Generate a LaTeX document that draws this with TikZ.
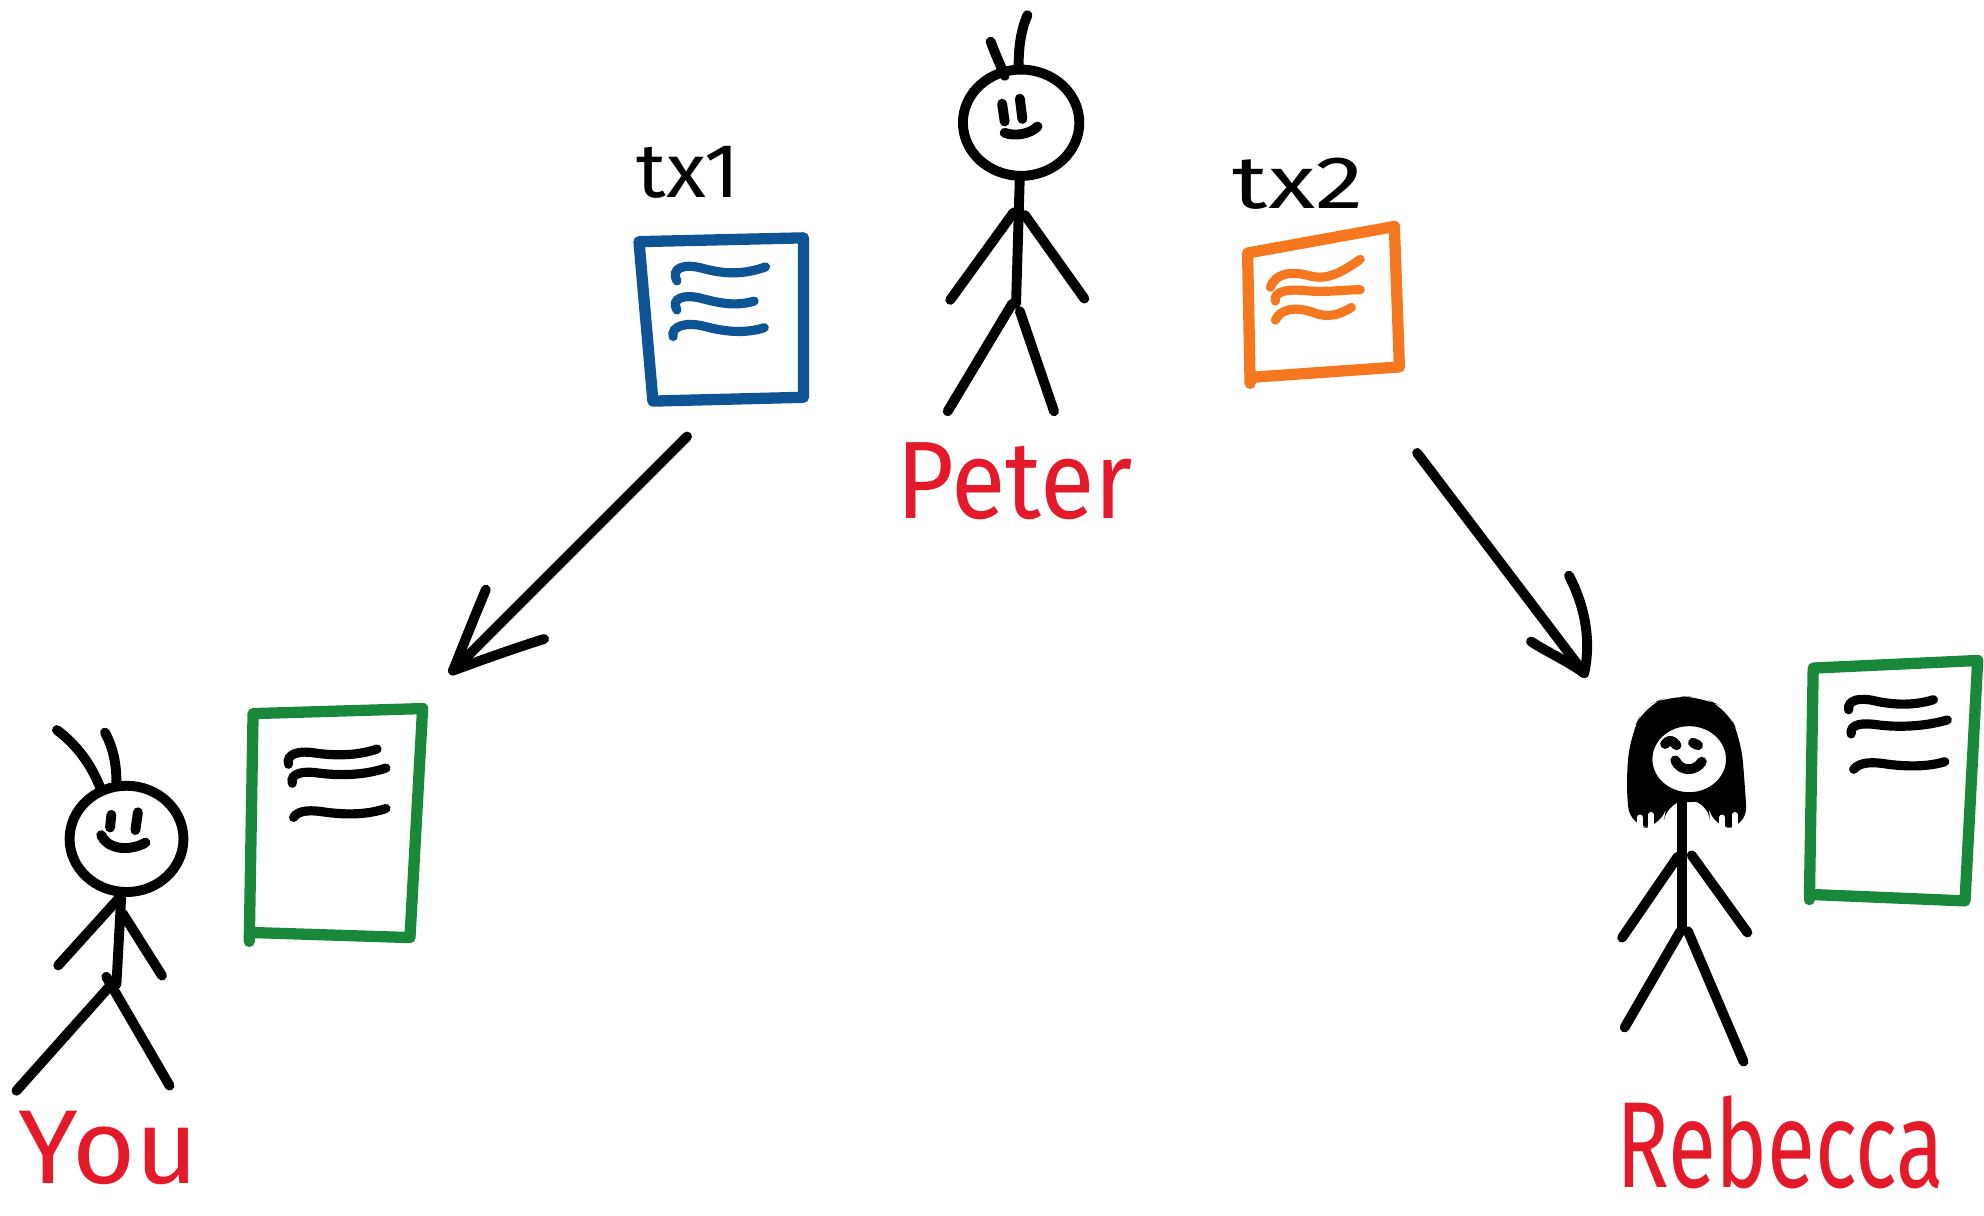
\documentclass[tikz,border=0pt]{standalone}
\usepackage{fontspec}
\setmainfont{Fira Sans}
\usepackage{graphicx}
\definecolor{inkred}{RGB}{228,26,42}
\definecolor{docblue}{RGB}{14,84,148}
\definecolor{docorange}{RGB}{245,120,32}
\definecolor{docgreen}{RGB}{26,136,58}

\tikzset{
  ink/.style={line width=2.8pt, line cap=round, line join=round},
  docframe/.style={line width=3.2pt, line cap=round, line join=round},
  scribble/.style={line width=2.6pt, line cap=round},
  namelabel/.style={text=inkred, inner sep=0pt},
  txlabel/.style={text=black, inner sep=0pt},
}
% stretch a word to a given width and height
\newcommand{\handword}[3]{\resizebox{#1}{#2}{#3}}

\begin{document}
\begin{tikzpicture}[x=0.0126cm,y=-0.0126cm]
\useasboundingbox (0,0) rectangle (1568,961);

% ---------------- Peter ----------------
\draw[ink] (807,97) ellipse [x radius=46, y radius=42];
\draw[ink] (783,33) .. controls (787,44) and (791,52) .. (794,60);
\draw[ink] (812,12) .. controls (806,26) and (805,40) .. (805,55);
\draw[ink] (792,82) -- (794,96);
\draw[ink] (806,78) -- (808,94);
\draw[ink] (794,105) .. controls (802,108) and (814,106) .. (820,100);
\draw[ink] (806,139) -- (803,240);
\draw[ink] (801,168) -- (751,237);
\draw[ink] (810,170) -- (857,236);
\draw[ink] (800,240) -- (749,325);
\draw[ink] (806,246) -- (833,325);
\node[namelabel] (peter) at (802,380) {\handword{67pt}{21.5pt}{Peter}};

% ---------------- transaction 1 (blue) ----------------
\node[txlabel] (txone) at (544,136) {\handword{29.4pt}{14.5pt}{tx1}};
\draw[docframe, docblue] (505,191) -- (635,188) -- (635,314) -- (516,317) -- cycle;
\begin{scope}[scribble, docblue]
  \draw (535,222) .. controls (530,212) and (540,208) .. (555,212) .. controls (570,216) and (585,218) .. (605,211);
  \draw (535,245) .. controls (530,236) and (540,232) .. (555,236) .. controls (570,240) and (582,242) .. (596,238);
  \draw (532,266) .. controls (530,258) and (542,254) .. (557,258) .. controls (572,262) and (588,264) .. (604,259);
\end{scope}

% ---------------- transaction 2 (orange) ----------------
\node[txlabel] (txtwo) at (1026,145) {\handword{37pt}{14.3pt}{tx2}};
\draw[docframe, docorange] (988,303) -- (986,200) -- (1102,179) -- (1106,290) -- (992,298);
\begin{scope}[scribble, docorange]
  \draw (1004,227) .. controls (1008,216) and (1020,214) .. (1035,218) .. controls (1050,222) and (1062,214) .. (1075,205);
  \draw (1008,238) .. controls (1006,230) and (1018,228) .. (1035,230) .. controls (1050,231) and (1062,229) .. (1075,229);
  \draw (1008,253) .. controls (1012,244) and (1024,242) .. (1038,247) .. controls (1050,252) and (1060,248) .. (1068,243);
\end{scope}

% ---------------- You ----------------
\draw[ink] (100,663) ellipse [x radius=45, y radius=42];
\draw[ink] (45,577) .. controls (60,588) and (72,604) .. (79,622);
\draw[ink] (83,579) .. controls (90,592) and (92,605) .. (92,618);
\draw[ink] (88,644) -- (87,654);
\draw[ink] (109,642) -- (107,656);
\draw[ink] (80,660) .. controls (84,670) and (100,674) .. (115,666);
\draw[ink] (96,705) -- (92,778);
\draw[ink] (93,711) -- (46,763);
\draw[ink] (97,722) -- (128,771);
\draw[ink] (88,778) -- (13,862);
\draw[ink] (84,772) -- (134,858);
\node[namelabel] (you) at (86,907) {\handword{51pt}{20.5pt}{You}};

\draw[docframe, docgreen] (197,744) -- (200,564) -- (334,560) -- (324,741) -- (200,737);
\begin{scope}[scribble]
  \draw (228,604) .. controls (226,596) and (236,593) .. (248,595) .. controls (262,597) and (280,598) .. (298,592);
  \draw (231,619) .. controls (229,611) and (240,609) .. (252,611) .. controls (268,613) and (287,613) .. (305,607);
  \draw (232,646) .. controls (236,640) and (246,640) .. (258,642) .. controls (274,644) and (290,644) .. (305,639);
\end{scope}

% ---------------- Rebecca ----------------
\fill[black, rounded corners=6pt] (1288,654) -- (1285,615) -- (1289,580) -- (1300,558) -- (1320,550) -- (1345,551)
   -- (1365,560) -- (1376,585) -- (1379,620) -- (1381,654) -- (1352,654) -- (1350,632) -- (1318,632) -- (1314,654) -- cycle;
\begin{scope}[white, line width=1.6pt, line cap=round]
  \draw (1296,646) -- (1296,656);
  \draw (1305,644) -- (1305,656);
  \draw (1361,646) -- (1361,656);
  \draw (1371,644) -- (1371,656);
\end{scope}
\draw[ink, fill=white] (1335,600) ellipse [x radius=33, y radius=30];
\draw[ink] (1316,588) .. controls (1319,584) and (1322,585) .. (1325,589);
\draw[ink] (1338,587) -- (1342,589);
\draw[ink] (1324,601) .. controls (1328,610) and (1340,610) .. (1345,602);
\draw[ink] (1329,630) -- (1329,735);
\draw[ink] (1326,677) -- (1282,741);
\draw[ink] (1337,676) -- (1381,737);
\draw[ink] (1328,736) -- (1284,812);
\draw[ink] (1334,736) -- (1378,839);
\node[namelabel] (rebecca) at (1407,903) {\handword{93pt}{26pt}{Rebecca}};

\draw[docframe, docgreen] (1430,711) -- (1433,528) -- (1563,522) -- (1553,712) -- (1433,707);
\begin{scope}[scribble]
  \draw (1461,561) .. controls (1460,553) and (1470,551) .. (1482,554) .. controls (1496,557) and (1512,558) .. (1528,553);
  \draw (1463,580) .. controls (1462,572) and (1472,571) .. (1485,573) .. controls (1502,575) and (1522,574) .. (1539,569);
  \draw (1465,608) .. controls (1470,602) and (1480,602) .. (1492,604) .. controls (1508,606) and (1524,606) .. (1537,602);
\end{scope}

% ---------------- arrows ----------------
\coordinate (sendone) at (543,345);
\coordinate (recvyou) at (358,530);
\coordinate (sendtwo) at (1120,358);
\coordinate (recvreb) at (1252,532);

\draw[ink] (sendone) -- (recvyou);
\draw[ink] (recvyou) .. controls (368,505) and (376,485) .. (384,466);
\draw[ink] (recvyou) .. controls (385,520) and (408,512) .. (430,505);

\draw[ink] (sendtwo) -- (recvreb);
\draw[ink] (recvreb) .. controls (1258,505) and (1252,478) .. (1240,455);
\draw[ink] (recvreb) .. controls (1238,522) and (1222,515) .. (1210,507);

\end{tikzpicture}
\end{document}
